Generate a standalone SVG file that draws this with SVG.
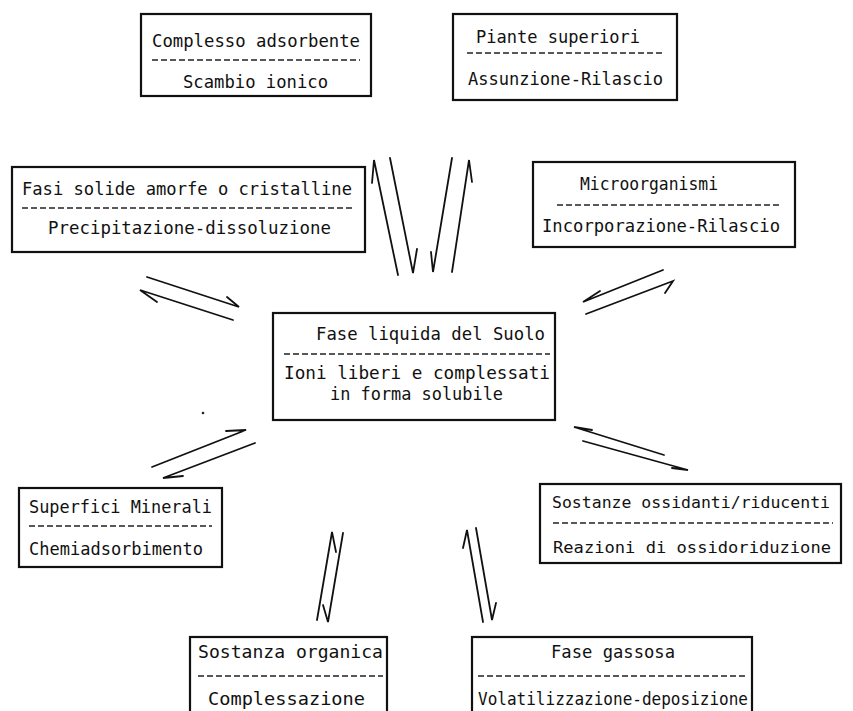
<svg xmlns="http://www.w3.org/2000/svg" width="853" height="711" viewBox="0 0 853 711">
<style>
.box{fill:#fff;stroke:#111;stroke-width:2.2}
.t{font-family:"DejaVu Sans Mono","Liberation Mono",monospace;font-size:18.5px;fill:#111}
.s{font-size:16.5px}
.d{stroke:#222;stroke-width:1.3;stroke-dasharray:6 3;fill:none}
.h{fill:none;stroke:#111;stroke-width:1.8;stroke-linejoin:miter;stroke-linecap:round}
</style>
<rect width="853" height="711" fill="#fff"/>
<g id="complesso">
<rect class="box" x="141" y="14" width="230" height="82"/>
<text class="t" x="152" y="47" textLength="208" lengthAdjust="spacingAndGlyphs">Complesso adsorbente</text>
<line class="d" x1="152" y1="60" x2="360" y2="60"/>
<text class="t" x="183" y="88" textLength="145" lengthAdjust="spacingAndGlyphs">Scambio ionico</text>
</g>
<g id="piante">
<rect class="box" x="453" y="14" width="224" height="86"/>
<text class="t" x="476" y="43" textLength="164" lengthAdjust="spacingAndGlyphs">Piante superiori</text>
<line class="d" x1="467" y1="53" x2="662" y2="53"/>
<text class="t" x="468" y="85" textLength="195" lengthAdjust="spacingAndGlyphs">Assunzione-Rilascio</text>
</g>
<g id="fasi-solide">
<rect class="box" x="12" y="167" width="353" height="85"/>
<text class="t" x="22" y="195" textLength="330" lengthAdjust="spacingAndGlyphs">Fasi solide amorfe o cristalline</text>
<line class="d" x1="22" y1="208" x2="352" y2="208"/>
<text class="t" x="48" y="234" textLength="283" lengthAdjust="spacingAndGlyphs">Precipitazione-dissoluzione</text>
</g>
<g id="microorganismi">
<rect class="box" x="533" y="162" width="262" height="85"/>
<text class="t" x="580" y="190" textLength="138" lengthAdjust="spacingAndGlyphs">Microorganismi</text>
<line class="d" x1="557" y1="205" x2="780" y2="205"/>
<text class="t" x="542" y="232" textLength="238" lengthAdjust="spacingAndGlyphs">Incorporazione-Rilascio</text>
</g>
<g id="fase-liquida">
<rect class="box" x="273" y="313" width="282" height="107"/>
<text class="t" x="316" y="340" textLength="229" lengthAdjust="spacingAndGlyphs">Fase liquida del Suolo</text>
<line class="d" x1="284" y1="354" x2="550" y2="354"/>
<text class="t" x="284" y="379" textLength="266" lengthAdjust="spacingAndGlyphs">Ioni liberi e complessati</text>
<text class="t" x="330" y="400" textLength="173" lengthAdjust="spacingAndGlyphs">in forma solubile</text>
</g>
<g id="superfici">
<rect class="box" x="19" y="488" width="203" height="79"/>
<text class="t" x="29" y="513" textLength="183" lengthAdjust="spacingAndGlyphs">Superfici Minerali</text>
<line class="d" x1="29" y1="526" x2="212" y2="526"/>
<text class="t" x="29" y="555" textLength="174" lengthAdjust="spacingAndGlyphs">Chemiadsorbimento</text>
</g>
<g id="sostanze-ossidanti">
<rect class="box" x="540" y="484" width="301" height="79"/>
<text class="t s" x="552" y="508" textLength="278" lengthAdjust="spacingAndGlyphs">Sostanze ossidanti/riducenti</text>
<line class="d" x1="553" y1="523" x2="833" y2="523"/>
<text class="t s" x="553" y="553" textLength="278" lengthAdjust="spacingAndGlyphs">Reazioni di ossidoriduzione</text>
</g>
<g id="sostanza-organica">
<rect class="box" x="190" y="637" width="197" height="90"/>
<text class="t" x="198" y="658" textLength="185" lengthAdjust="spacingAndGlyphs">Sostanza organica</text>
<line class="d" x1="198" y1="676" x2="383" y2="676"/>
<text class="t" x="208" y="705" textLength="157" lengthAdjust="spacingAndGlyphs">Complessazione</text>
</g>
<g id="fase-gassosa">
<rect class="box" x="472" y="637" width="280" height="90"/>
<text class="t" x="551" y="658" textLength="124" lengthAdjust="spacingAndGlyphs">Fase gassosa</text>
<line class="d" x1="478" y1="676" x2="748" y2="676"/>
<text class="t" x="478" y="705" textLength="270" lengthAdjust="spacingAndGlyphs">Volatilizzazione-deposizione</text>
</g>
<g id="connectors">
<path class="h" d="M398 275 L374 160 L372 183"/>
<path class="h" d="M390 158 L413 273 L417 249"/>
<path class="h" d="M452 158 L433 272 L431 252"/>
<path class="h" d="M452 272 L469 160 L472 182"/>
<path class="h" d="M147 277 L239 307 L227 297"/>
<path class="h" d="M233 320 L140 290 L157 302"/>
<path class="h" d="M663 270 L583 302 L600 291"/>
<path class="h" d="M586 314 L673 281 L665 293"/>
<path class="h" d="M152 467 L246 430 L226 431"/>
<path class="h" d="M255 443 L163 478 L183 476"/>
<path class="h" d="M664 455 L574 427 L592 430"/>
<path class="h" d="M583 441 L688 470 L672 468"/>
<path class="h" d="M317 620 L332 532 L336 552"/>
<path class="h" d="M343 533 L328 622 L323 605"/>
<path class="h" d="M483 622 L467 530 L463 548"/>
<path class="h" d="M476 528 L492 620 L496 603"/>
</g>
<circle cx="203" cy="413" r="1.3" fill="#222"/>
</svg>
